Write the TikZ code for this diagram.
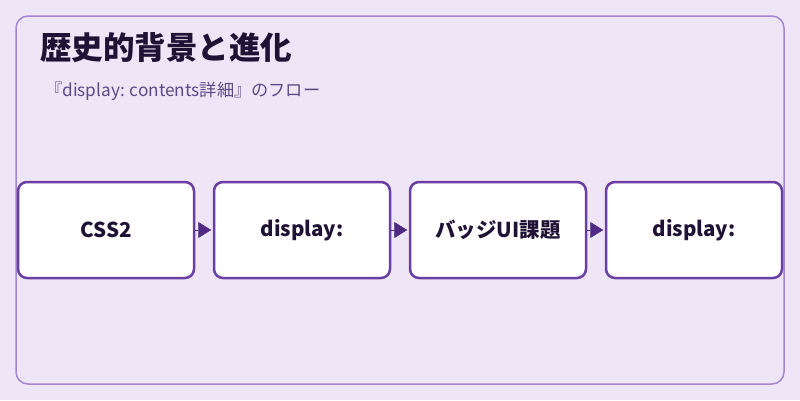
\documentclass[tikz,border=0pt]{standalone}
\usepackage{fontspec}
\setmainfont{Noto Sans CJK JP}
\usetikzlibrary{arrows.meta}
\definecolor{bgpurple}{HTML}{EEE6F6}
\definecolor{framepurple}{HTML}{A385D0}
\definecolor{boxpurple}{HTML}{6A3FA3}
\definecolor{arrowpurple}{HTML}{4F2A85}
\definecolor{inkdark}{HTML}{1F1235}
\definecolor{subink}{HTML}{5B4A85}
\tikzset{
  stagebox/.style={draw=boxpurple, line width=2.5pt, fill=white, rounded corners=9pt,
    minimum width=176pt, minimum height=96pt, inner sep=0pt,
    font=\fontsize{20.5}{24}\selectfont\bfseries, text=inkdark},
  flowarrow/.style={draw=arrowpurple, line width=0.5pt, shorten <=0pt, shorten >=1.5pt,
    -{Triangle[length=13pt,width=16pt]}}
}
\begin{document}
\begin{tikzpicture}[x=1pt,y=-1pt]
 \useasboundingbox (0,0) rectangle (800,400);
 \fill[bgpurple] (0,0) rectangle (800,400);
 \draw[framepurple, line width=1.5pt, rounded corners=12pt] (16,16) rectangle (784,384);
 % title and subtitle
 \node[anchor=base west, inner sep=0pt, text=inkdark, font=\fontsize{31.5}{36}\selectfont\bfseries] (title) at (40,59) {歴史的背景と進化};
 \node[anchor=base west, inner sep=0pt, text=subink, font=\fontsize{17.2}{20}\selectfont] (subtitle) at (45,96) {『display: contents詳細』のフロー};
 % stages
 \node[stagebox] (css) at (106,230) {CSS2};
 \node[stagebox] (disp) at (302,230) {display:};
 \node[stagebox] (badge) at (498,230) {バッジUI課題};
 \node[stagebox] (dispb) at (694,230) {display:};
 \draw[flowarrow] (css) -- (disp);
 \draw[flowarrow] (disp) -- (badge);
 \draw[flowarrow] (badge) -- (dispb);
\end{tikzpicture}
\end{document}
